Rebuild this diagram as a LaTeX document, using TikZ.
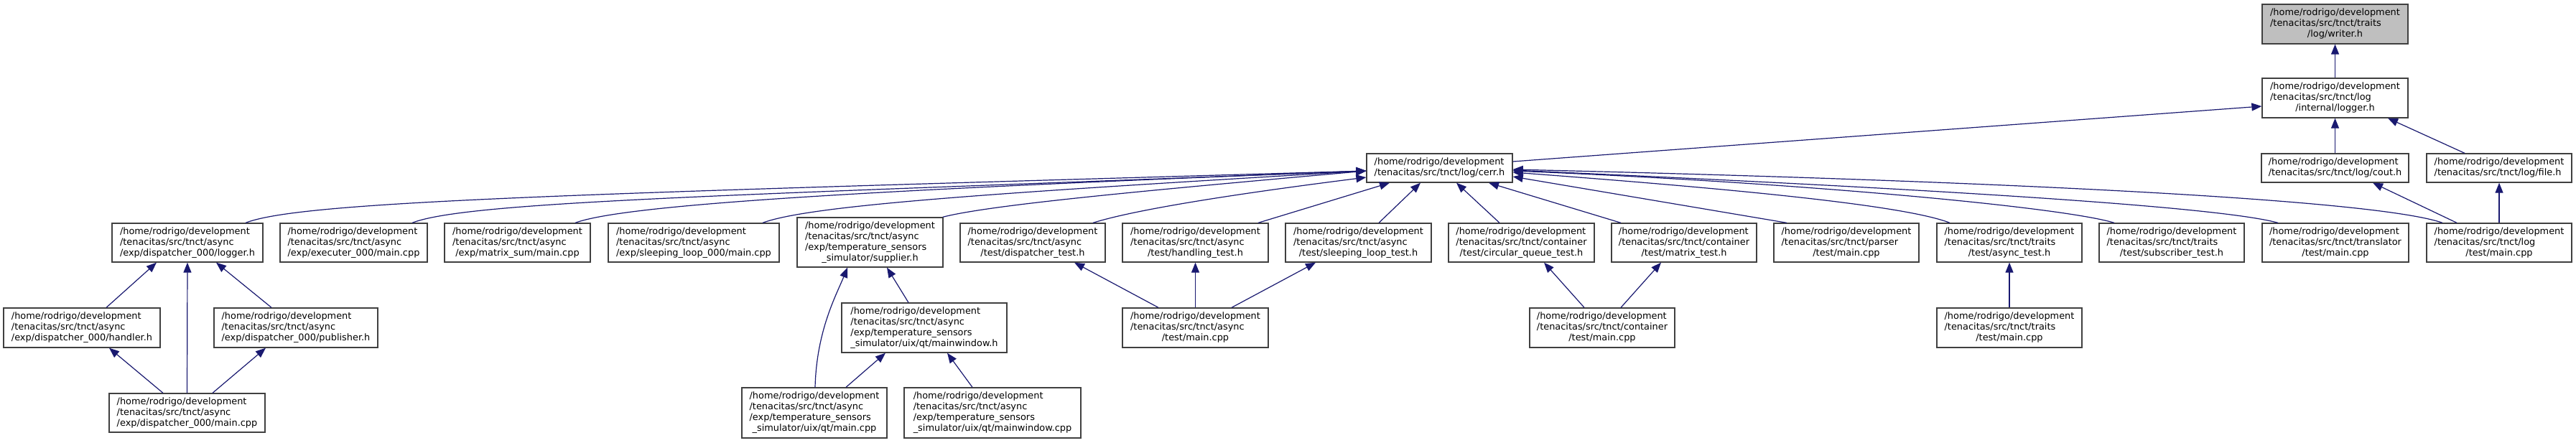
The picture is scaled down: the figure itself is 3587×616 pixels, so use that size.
\documentclass[tikz,border=0pt]{standalone}
\usepackage{fontspec}
\setmainfont{DejaVu Sans}
\usetikzlibrary{arrows.meta,calc}
\definecolor{edgeblue}{HTML}{191970}
\definecolor{boxgray}{HTML}{404040}
\definecolor{curfill}{HTML}{BFBFBF}
\newcommand{\tl}[1]{\begin{tabular}{@{}l@{}}#1\end{tabular}}
\newcommand{\tc}[2]{\begin{tabular}{@{}l@{}}#1\\\multicolumn{1}{@{}c@{}}{#2}\end{tabular}}
\newcommand{\hm}{/home/rodrigo/development}
\tikzset{
  box/.style={draw=boxgray, line width=1.3pt, fill=white, inner sep=0pt, anchor=center,
    font=\fontsize{12.9}{15}\selectfont},
  dep/.style={draw=edgeblue, line width=1.2pt, {Triangle[length=14pt,width=11pt]}-},
}
\begin{document}
\begin{tikzpicture}[x=1pt,y=-1pt]
\fill[white] (0,0) rectangle (3587,616);
\useasboundingbox (0,0) rectangle (3587,616);
% row 0/1
\node[box, fill=curfill, minimum width=203pt, minimum height=55pt] (writer) at (3251.5,33.5) {\tc{\hm\\/tenacitas/src/tnct/traits}{/log/writer.h}};
\node[box, minimum width=203pt, minimum height=55pt] (ilogger) at (3251.5,136.5) {\tc{\hm\\/tenacitas/src/tnct/log}{/internal/logger.h}};
% row 2
\node[box, minimum width=203pt, minimum height=40pt] (cerr) at (2004.5,234) {\tl{\hm\\/tenacitas/src/tnct/log/cerr.h}};
\node[box, minimum width=205pt, minimum height=40pt] (cout) at (3251.5,234) {\tl{\hm\\/tenacitas/src/tnct/log/cout.h}};
\node[box, minimum width=202pt, minimum height=40pt] (file) at (3480,234) {\tl{\hm\\/tenacitas/src/tnct/log/file.h}};
% row 3
\node[box, minimum width=210pt, minimum height=54pt] (dlogger) at (261,338) {\tl{\hm\\/tenacitas/src/tnct/async\\/exp/dispatcher\_000/logger.h}};
\node[box, minimum width=205pt, minimum height=54pt] (executer) at (492.5,338) {\tl{\hm\\/tenacitas/src/tnct/async\\/exp/executer\_000/main.cpp}};
\node[box, minimum width=203pt, minimum height=54pt] (matrixsum) at (720.5,338) {\tc{\hm\\/tenacitas/src/tnct/async}{/exp/matrix\_sum/main.cpp}};
\node[box, minimum width=238pt, minimum height=54pt] (sleeploop) at (966,338) {\tl{\hm\\/tenacitas/src/tnct/async\\/exp/sleeping\_loop\_000/main.cpp}};
\node[box, minimum width=203pt, minimum height=69pt] (supplier) at (1211.5,337.5) {\tc{\hm\\/tenacitas/src/tnct/async\\/exp/temperature\_sensors}{\_simulator/supplier.h}};
\node[box, minimum width=202pt, minimum height=54pt] (disptest) at (1438,338) {\tc{\hm\\/tenacitas/src/tnct/async}{/test/dispatcher\_test.h}};
\node[box, minimum width=203pt, minimum height=54pt] (handltest) at (1664.5,338) {\tc{\hm\\/tenacitas/src/tnct/async}{/test/handling\_test.h}};
\node[box, minimum width=203pt, minimum height=54pt] (sleeptest) at (1891.5,338) {\tc{\hm\\/tenacitas/src/tnct/async}{/test/sleeping\_loop\_test.h}};
\node[box, minimum width=203pt, minimum height=54pt] (circq) at (2118.5,338) {\tc{\hm\\/tenacitas/src/tnct/container}{/test/circular\_queue\_test.h}};
\node[box, minimum width=202pt, minimum height=54pt] (matrixtest) at (2345,338) {\tc{\hm\\/tenacitas/src/tnct/container}{/test/matrix\_test.h}};
\node[box, minimum width=202pt, minimum height=54pt] (parser) at (2571,338) {\tc{\hm\\/tenacitas/src/tnct/parser}{/test/main.cpp}};
\node[box, minimum width=202pt, minimum height=54pt] (asynctest) at (2798,338) {\tc{\hm\\/tenacitas/src/tnct/traits}{/test/async\_test.h}};
\node[box, minimum width=202pt, minimum height=54pt] (subtest) at (3024,338) {\tc{\hm\\/tenacitas/src/tnct/traits}{/test/subscriber\_test.h}};
\node[box, minimum width=204pt, minimum height=54pt] (translator) at (3252,338) {\tc{\hm\\/tenacitas/src/tnct/translator}{/test/main.cpp}};
\node[box, minimum width=202pt, minimum height=54pt] (logmain) at (3480,338) {\tc{\hm\\/tenacitas/src/tnct/log}{/test/main.cpp}};
% row 4
\node[box, minimum width=218pt, minimum height=55pt] (handler) at (114,456.5) {\tl{\hm\\/tenacitas/src/tnct/async\\/exp/dispatcher\_000/handler.h}};
\node[box, minimum width=228pt, minimum height=55pt] (publisher) at (412,456.5) {\tl{\hm\\/tenacitas/src/tnct/async\\/exp/dispatcher\_000/publisher.h}};
\node[box, minimum width=230pt, minimum height=69pt] (mainwindowh) at (1287,456.5) {\tl{\hm\\/tenacitas/src/tnct/async\\/exp/temperature\_sensors\\\_simulator/uix/qt/mainwindow.h}};
\node[box, minimum width=203pt, minimum height=55pt] (asyncmain) at (1664.5,456.5) {\tc{\hm\\/tenacitas/src/tnct/async}{/test/main.cpp}};
\node[box, minimum width=202pt, minimum height=55pt] (contmain) at (2231,456.5) {\tc{\hm\\/tenacitas/src/tnct/container}{/test/main.cpp}};
\node[box, minimum width=202pt, minimum height=55pt] (traitsmain) at (2798,456.5) {\tc{\hm\\/tenacitas/src/tnct/traits}{/test/main.cpp}};
% row 5
\node[box, minimum width=217pt, minimum height=54pt] (dispmain) at (260.5,575) {\tl{\hm\\/tenacitas/src/tnct/async\\/exp/dispatcher\_000/main.cpp}};
\node[box, minimum width=202pt, minimum height=70pt] (qtmain) at (1134,575) {\tc{\hm\\/tenacitas/src/tnct/async\\/exp/temperature\_sensors}{\_simulator/uix/qt/main.cpp}};
\node[box, minimum width=246pt, minimum height=70pt] (mwcpp) at (1382,575) {\tl{\hm\\/tenacitas/src/tnct/async\\/exp/temperature\_sensors\\\_simulator/uix/qt/mainwindow.cpp}};
% edges
\draw[dep] (writer.south) -- (ilogger.north);
\draw[dep] ([yshift=-11.5pt]ilogger.west) -- ([yshift=9pt]cerr.east);
\draw[dep] (ilogger.south) -- (cout.north);
\draw[dep] ([xshift=73.5pt]ilogger.south) -- ([xshift=-48pt]file.north);
\draw[dep] ([yshift=-4pt]cerr.west) .. controls (800,270) and (420,280) .. ([xshift=81pt]dlogger.north);
\draw[dep] ([yshift=-4pt]cerr.west) .. controls (1030,272) and (652,280) .. ([xshift=81.5pt]executer.north);
\draw[dep] ([yshift=-4pt]cerr.west) .. controls (1200,265) and (870,285) .. ([xshift=80.5pt]matrixsum.north);
\draw[dep] ([yshift=-4pt]cerr.west) .. controls (1400,268) and (1130,285) .. ([xshift=96pt]sleeploop.north);
\draw[dep] ([yshift=-4pt]cerr.west) .. controls (1600,265) and (1380,285) .. ([xshift=-1pt]supplier.north east);
\draw[dep] ([yshift=-13pt]cerr.west) .. controls (1720,270) and (1580,292) .. ([xshift=84pt]disptest.north);
\draw[dep] ([xshift=-69.5pt]cerr.south) -- ([xshift=87.5pt]handltest.north);
\draw[dep] ([xshift=-26.5pt]cerr.south) -- ([xshift=28.5pt]sleeptest.north);
\draw[dep] ([xshift=23.5pt]cerr.south) -- ([xshift=-30.5pt]circq.north);
\draw[dep] ([xshift=68.5pt]cerr.south) -- ([xshift=-88pt]matrixtest.north);
\draw[dep] ([yshift=-12pt]cerr.east) -- ([xshift=-83pt]parser.north);
\draw[dep] ([yshift=-6pt]cerr.east) .. controls (2400,262) and (2650,285) .. ([xshift=-83pt]asynctest.north);
\draw[dep] ([yshift=-4pt]cerr.east) .. controls (2500,254) and (2870,288) .. ([xshift=-80pt]subtest.north);
\draw[dep] ([yshift=-3pt]cerr.east) .. controls (2600,259) and (3080,285) .. ([xshift=-80pt]translator.north);
\draw[dep] ([yshift=-2pt]cerr.east) .. controls (2700,250) and (3300,275) .. ([xshift=-79pt]logmain.north);
\draw[dep] ([xshift=52.5pt]cout.south) -- ([xshift=-59pt]logmain.north);
\draw[dep] (file.south) -- (logmain.north);
\draw[dep] ([xshift=-43pt]dlogger.south) -- ([xshift=34pt]handler.north);
\draw[dep] (dlogger.south) -- (dispmain.north);
\draw[dep] ([xshift=40pt]dlogger.south) -- ([xshift=-34pt]publisher.north);
\draw[dep] ([xshift=38pt]handler.south) -- ([xshift=-33.5pt]dispmain.north);
\draw[dep] ([xshift=-42pt]publisher.south) -- ([xshift=35.5pt]dispmain.north);
\draw[dep] ([xshift=-31.5pt]supplier.south) .. controls (1165,410) and (1137,460) .. ([xshift=1pt]qtmain.north);
\draw[dep] ([xshift=23.5pt]supplier.south) -- ([xshift=-22pt]mainwindowh.north);
\draw[dep] ([xshift=-54pt]mainwindowh.south) -- ([xshift=44pt]qtmain.north);
\draw[dep] ([xshift=32pt]mainwindowh.south) -- ([xshift=-28pt]mwcpp.north);
\draw[dep] ([xshift=58pt]disptest.south) -- ([xshift=-51.5pt]asyncmain.north);
\draw[dep] (handltest.south) -- (asyncmain.north);
\draw[dep] ([xshift=-59.5pt]sleeptest.south) -- ([xshift=50.5pt]asyncmain.north);
\draw[dep] ([xshift=31.5pt]circq.south) -- ([xshift=-25pt]contmain.north);
\draw[dep] ([xshift=-32pt]matrixtest.south) -- ([xshift=26pt]contmain.north);
\draw[dep] (asynctest.south) -- (traitsmain.north);
\end{tikzpicture}
\end{document}
